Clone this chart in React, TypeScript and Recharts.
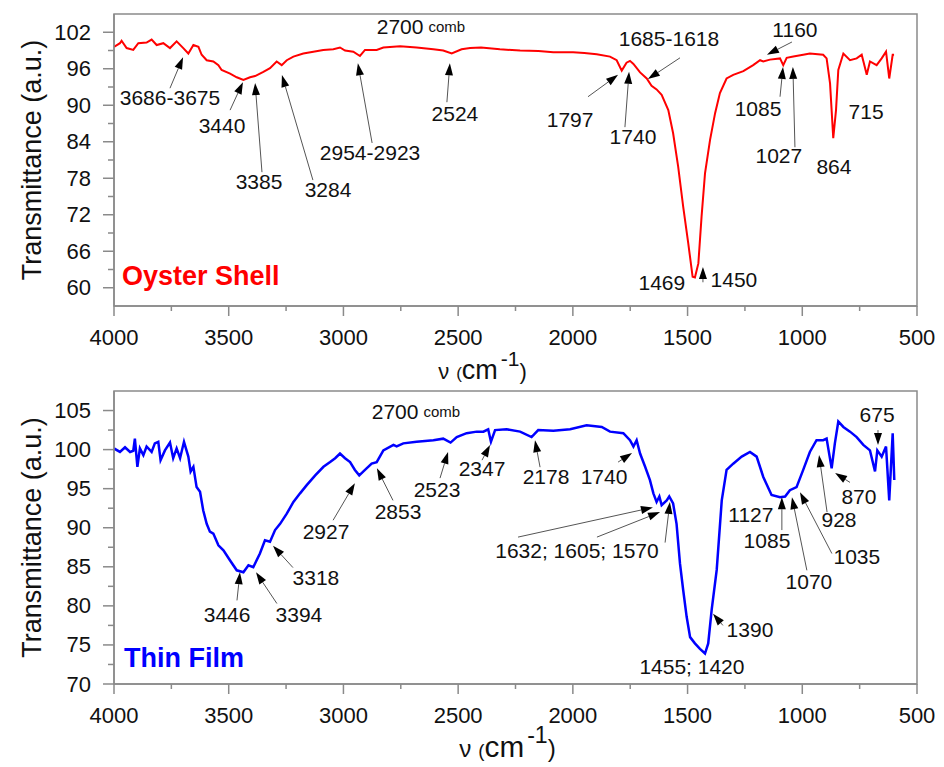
import React from 'react';
import {
  LineChart,
  Line,
  XAxis,
  YAxis,
  ReferenceLine,
  ReferenceDot,
  ReferenceArea,
} from 'recharts';

const FONT = '"Liberation Sans", Arial, Helvetica, sans-serif';
const GREY = '#8a8a8a';
const INK = '#111';

// wavenumber ticks (cm-1)
const xMajor = [4000, 3500, 3000, 2500, 2000, 1500, 1000, 500];
const xMinor = [3750, 3250, 2750, 2250, 1750, 1250, 750];

const shellYMajor = [60, 66, 72, 78, 84, 90, 96, 102];
const shellYMinor = [63, 69, 75, 81, 87, 93, 99];
const filmYMajor = [70, 75, 80, 85, 90, 95, 100, 105];
const filmYMinor = [72.5, 77.5, 82.5, 87.5, 92.5, 97.5, 102.5];

// Oyster shell spectrum
const shellNu = [
  4000, 3974, 3967, 3945, 3916, 3894, 3858, 3836, 3814, 3785, 3756, 3727, 3698, 3676, 3654, 3632,
  3618, 3596, 3567, 3545, 3531, 3494, 3465, 3436, 3407, 3385, 3349, 3320, 3291, 3269, 3247, 3218,
  3175, 3131, 3088, 3044, 3015, 2993, 2957, 2928, 2906, 2855, 2826, 2753, 2681, 2608, 2565, 2528,
  2485, 2448, 2400, 2318, 2230, 2150, 2085, 1999, 1950, 1896, 1838, 1809, 1787, 1766, 1751, 1736,
  1707, 1678, 1657, 1635, 1613, 1584, 1563, 1541, 1519, 1497, 1478, 1468, 1453, 1439, 1424, 1402,
  1380, 1359, 1330, 1301, 1257, 1214, 1184, 1170, 1141, 1097, 1083, 1068, 1039, 996, 967, 909,
  894, 879, 865, 853, 843, 821, 792, 763, 741, 719, 705, 676, 654, 635, 621, 606, 600,
];
const shellT = [
  99.6, 100.2, 100.6, 99.4, 99.1, 100.2, 100.3, 100.8, 99.9, 100.2, 99.4, 100.5, 99.4, 98.5, 99.9, 99.6,
  98.3, 97.4, 97.2, 96.6, 95.8, 95.2, 94.6, 94.15, 94.6, 94.8, 95.5, 96.1, 97.2, 96.6, 97.4, 98.0,
  98.5, 98.8, 99.1, 99.2, 99.5, 99.0, 98.8, 98.1, 99.1, 99.1, 99.5, 99.7, 99.5, 99.2, 99.0, 98.5,
  99.2, 99.4, 99.5, 99.2, 99.0, 98.9, 98.7, 98.7, 98.6, 98.4, 98.0, 97.4, 95.7, 97.0, 97.3, 96.8,
  95.4, 94.4, 93.2, 92.6, 91.7, 89.2, 85.4, 79.9, 73.3, 67.3, 61.8, 61.7, 64.0, 71.7, 78.8, 84.3,
  88.7, 92.0, 94.4, 95.0, 95.6, 96.6, 97.4, 97.2, 97.5, 97.7, 96.6, 97.8, 98.0, 98.3, 98.5, 98.3,
  97.7, 93.6, 84.6, 89.2, 95.8, 98.5, 97.4, 97.7, 98.3, 95.0, 97.2, 96.6, 97.7, 98.8, 94.4, 98.3, 98.3,
];

// Thin film spectrum
const filmNu = [
  4000, 3974, 3952, 3930, 3916, 3909, 3898, 3887, 3872, 3858, 3836, 3822, 3807, 3797, 3778, 3756,
  3742, 3727, 3712, 3695, 3676, 3666, 3654, 3640, 3625, 3611, 3596, 3582, 3567, 3545, 3523, 3494,
  3465, 3436, 3414, 3393, 3364, 3342, 3320, 3298, 3276, 3247, 3218, 3189, 3160, 3123, 3087, 3058,
  3036, 3015, 2993, 2971, 2950, 2931, 2906, 2877, 2855, 2826, 2782, 2768, 2739, 2681, 2608, 2565,
  2533, 2506, 2463, 2419, 2390, 2369, 2357, 2339, 2289, 2230, 2180, 2151, 2085, 2012, 1940, 1874,
  1838, 1780, 1751, 1736, 1722, 1707, 1685, 1664, 1649, 1635, 1623, 1613, 1591, 1580, 1563, 1548,
  1533, 1519, 1504, 1489, 1468, 1446, 1424, 1410, 1395, 1373, 1351, 1330, 1301, 1264, 1228, 1199,
  1170, 1134, 1097, 1075, 1054, 1025, 996, 967, 938, 909, 894, 872, 858, 843, 821, 792,
  763, 734, 705, 683, 673, 654, 635, 621, 606, 599,
];
const filmT = [
  100.15, 99.7, 100.3, 99.7, 99.85, 101.4, 97.8, 100.15, 99.3, 100.4, 99.7, 100.8, 101.0, 98.65, 99.9, 100.9,
  98.9, 100.15, 98.9, 101.0, 99.1, 97.2, 97.8, 95.2, 94.6, 92.2, 90.5, 89.5, 89.25, 87.75, 87.1, 85.8,
  84.55, 84.3, 85.2, 84.95, 86.7, 88.4, 88.2, 89.7, 90.5, 91.8, 93.3, 94.4, 95.45, 96.7, 97.8, 98.4,
  98.9, 99.5, 98.9, 98.4, 97.4, 96.7, 97.4, 98.2, 98.4, 99.9, 100.6, 100.4, 100.8, 101.0, 101.2, 101.4,
  100.9, 101.6, 102.1, 102.3, 102.3, 102.6, 101.0, 102.5, 102.6, 102.3, 101.6, 102.5, 102.4, 102.6, 103.1, 102.9,
  102.3, 102.1, 101.2, 100.4, 101.2, 99.5, 97.8, 96.1, 94.4, 93.3, 94.0, 92.9, 93.5, 94.0, 93.1, 90.5,
  85.4, 82.0, 78.6, 76.0, 75.2, 74.5, 73.9, 75.2, 79.5, 84.6, 93.5, 97.4, 98.2, 99.1, 99.7, 99.1,
  96.5, 94.2, 93.9, 94.0, 94.8, 95.2, 97.4, 99.7, 101.2, 101.2, 101.4, 97.6, 100.8, 103.6, 102.9, 102.3,
  101.6, 100.6, 99.9, 97.2, 99.9, 99.1, 100.4, 93.5, 102.1, 96.1,
];

type Note = {
  text: string;
  x: number;
  y: number;
  anchor?: 'start' | 'middle' | 'end';
  arrows?: number[][]; // [fromNu, fromT, toNu, toT]
};

const shellNotes: Note[] = [
  { text: '3686-3675', x: 3756, y: 91.35, arrows: [[3756, 92.8, 3699, 97.9]] },
  { text: '3440', x: 3529, y: 86.75, arrows: [[3494, 89.2, 3438, 93.8]] },
  { text: '3385', x: 3368, y: 77.4, arrows: [[3355, 79.0, 3385, 93.65]] },
  { text: '3284', x: 3067, y: 76.1, arrows: [[3133, 77.7, 3268, 94.97]] },
  { text: '2954-2923', x: 2884, y: 82.3, arrows: [[2875, 83.8, 2937, 96.9]] },
  { text: '2524', x: 2514, y: 88.7, arrows: [[2549, 90.5, 2536, 96.9]] },
  { text: '2700|comb', x: 2662, y: 103.0 },
  { text: '1797', x: 2012, y: 87.6, arrows: [[1934, 91.4, 1803, 95.0]] },
  { text: '1740', x: 1738, y: 84.8, arrows: [[1773, 86.4, 1755, 95.5]] },
  { text: '1685-1618', x: 1581, y: 100.9, arrows: [[1533, 97.8, 1673, 94.3]] },
  { text: '1160', x: 1032, y: 102.4, arrows: [[1045, 100.4, 1154, 98.3]] },
  { text: '1085', x: 1193, y: 89.5, arrows: [[1097, 91.4, 1084, 96.3]] },
  { text: '1027', x: 1102, y: 81.7, arrows: [[1032, 83.1, 1041, 96.3]] },
  { text: '864', x: 862, y: 79.85 },
  { text: '715', x: 722, y: 88.9 },
  { text: '1469', x: 1612, y: 60.8 },
  { text: '1450', x: 1298, y: 61.4, arrows: [[1433, 60.9, 1433, 63.4]] },
];

const filmNotes: Note[] = [
  { text: '3446', x: 3507, y: 78.9, arrows: [[3464, 80.7, 3451, 84.3]] },
  { text: '3394', x: 3194, y: 78.9, arrows: [[3290, 80.3, 3381, 84.3]] },
  { text: '3318', x: 3120, y: 83.65, arrows: [[3220, 84.9, 3307, 87.7]] },
  { text: '2927', x: 3076, y: 89.55, arrows: [[3045, 90.96, 2950, 95.7]] },
  { text: '2853', x: 2762, y: 92.1, arrows: [[2784, 93.5, 2854, 97.6]] },
  { text: '2523', x: 2592, y: 94.9, arrows: [[2579, 96.35, 2544, 99.7]] },
  { text: '2347', x: 2396, y: 97.6, arrows: [[2396, 98.65, 2361, 100.6]] },
  { text: '2178', x: 2117, y: 96.5, arrows: [[2143, 97.75, 2165, 101.2]] },
  { text: '1740', x: 1864, y: 96.6, arrows: [[1803, 98.4, 1742, 99.55]] },
  { text: '2700|comb', x: 2684, y: 104.9 },
  {
    text: '1632; 1605; 1570',
    x: 1982,
    y: 87.1,
    arrows: [
      [2239, 88.8, 1651, 92.6],
      [1895, 88.8, 1620, 92.0],
      [1598, 88.1, 1577, 93.3],
    ],
  },
  { text: '1455; 1420', x: 1481, y: 72.2 },
  { text: '1390', x: 1228, y: 77.0, arrows: [[1346, 77.5, 1389, 79.0]] },
  { text: '1127', x: 1224, y: 91.7 },
  { text: '1085', x: 1154, y: 88.4, arrows: [[1089, 89.7, 1089, 93.9]] },
  { text: '1070', x: 971, y: 83.1, arrows: [[980, 84.55, 1045, 93.9]] },
  { text: '1035', x: 762, y: 86.35, arrows: [[871, 86.7, 1010, 94.55]] },
  { text: '928', x: 840, y: 91.0, arrows: [[892, 92.0, 927, 99.3]] },
  { text: '870', x: 753, y: 94.0, arrows: [[792, 95.8, 857, 97.0]] },
  { text: '675', x: 674, y: 104.55, arrows: [[670, 102.5, 670, 100.6]] },
];

const Arrow = (p: any) => {
  const { x1, y1, x2, y2 } = p;
  const ang = Math.atan2(y2 - y1, x2 - x1);
  const len = 12;
  const half = 4;
  const bx = x2 - len * Math.cos(ang);
  const by = y2 - len * Math.sin(ang);
  const nx = -Math.sin(ang) * half;
  const ny = Math.cos(ang) * half;
  return (
    <g>
      <line x1={x1} y1={y1} x2={bx} y2={by} stroke="#555" strokeWidth={1} />
      <polygon points={`${x2},${y2} ${bx + nx},${by + ny} ${bx - nx},${by - ny}`} fill="#000" />
    </g>
  );
};

const noteLabel = (note: Note) => (p: any) => {
  if (note.text.includes('|')) {
    const [main, small] = note.text.split('|');
    return (
      <text x={p.cx} y={p.cy} textAnchor="middle" dominantBaseline="central" fontFamily={FONT} fill={INK}>
        <tspan fontSize={21}>{main}</tspan>
        <tspan fontSize={15} dx={5}>{small}</tspan>
      </text>
    );
  }
  return (
    <text
      x={p.cx}
      y={p.cy}
      textAnchor={note.anchor ?? 'middle'}
      dominantBaseline="central"
      fontSize={21}
      fontFamily={FONT}
      fill={INK}
    >
      {note.text}
    </text>
  );
};

const makeXTick = (p: any) => {
  const { x, y, payload } = p;
  const major = xMajor.includes(payload.value);
  return (
    <g>
      <line x1={x} y1={y} x2={x} y2={y + (major ? 10 : 5)} stroke={GREY} strokeWidth={1.5} />
      {major && (
        <text x={x} y={y + 39} textAnchor="middle" fontSize={22} fontFamily={FONT} fill={INK}>
          {payload.value}
        </text>
      )}
    </g>
  );
};

const makeYTick = (majors: number[]) => (p: any) => {
  const { x, y, payload } = p;
  const major = majors.includes(payload.value);
  return (
    <g>
      <line x1={x} y1={y} x2={x - (major ? 11 : 6)} y2={y} stroke={GREY} strokeWidth={1.5} />
      {major && (
        <text x={x - 23} y={y} textAnchor="end" dominantBaseline="central" fontSize={22} fontFamily={FONT} fill={INK}>
          {payload.value}
        </text>
      )}
    </g>
  );
};

interface PanelProps {
  nu: number[];
  values: number[];
  color: string;
  lineWidth: number;
  yDomain: [number, number];
  yMajor: number[];
  yMinor: number[];
  notes: Note[];
  name: string;
  nameAt: [number, number];
  height: number;
  marginTop: number;
  xAxisHeight: number;
  titleDy: number;
  titleDx: number;
  titleScale: number;
}

function Panel(props: PanelProps) {
  const {
    nu, values, color, lineWidth, yDomain, yMajor, yMinor, notes, name, nameAt,
    height, marginTop, xAxisHeight, titleDy, titleDx, titleScale,
  } = props;
  const data = nu.map((n, i) => ({ nu: n, t: values[i] }));
  const s = titleScale;

  const xTitle = (lp: any) => {
    const vb = lp.viewBox;
    const cx = vb.x + vb.width / 2 + titleDx;
    const base = vb.y + titleDy;
    return (
      <text x={cx} y={base} textAnchor="middle" fontFamily={FONT} fill={INK}>
        <tspan fontSize={22 * s}>ν</tspan>
        <tspan fontSize={17 * s} dx={7}>(</tspan>
        <tspan fontSize={27 * s}>cm</tspan>
        <tspan fontSize={21 * s} dy={-13 * s} dx={3}>-1</tspan>
        <tspan fontSize={22 * s} dy={13 * s}>)</tspan>
      </text>
    );
  };

  const yTitle = (lp: any) => {
    const vb = lp.viewBox;
    const cx = 24;
    const cy = vb.y + vb.height / 2;
    return (
      <text
        x={cx}
        y={cy}
        transform={`rotate(-90, ${cx}, ${cy})`}
        textAnchor="middle"
        dominantBaseline="central"
        fontSize={27}
        fontFamily={FONT}
        fill={INK}
      >
        Transmittance (a.u.)
      </text>
    );
  };

  return (
    <LineChart width={930} height={height} data={data} margin={{ top: marginTop, right: 21, left: 0, bottom: 0 }}>
      <ReferenceArea
        x1={4000}
        x2={500}
        y1={yDomain[0]}
        y2={yDomain[1]}
        fill="none"
        stroke={GREY}
        strokeWidth={1.5}
        ifOverflow="visible"
      />
      <XAxis
        dataKey="nu"
        type="number"
        domain={[500, 4000]}
        reversed
        ticks={[...xMajor, ...xMinor].sort((a, b) => a - b)}
        interval={0}
        tickSize={0}
        tickMargin={0}
        tickLine={false}
        tick={makeXTick}
        axisLine={{ stroke: GREY, strokeWidth: 1.5 }}
        height={xAxisHeight}
        allowDataOverflow
        label={xTitle}
      />
      <YAxis
        type="number"
        domain={yDomain}
        ticks={[...yMajor, ...yMinor].sort((a, b) => a - b)}
        interval={0}
        tickSize={0}
        tickMargin={0}
        tickLine={false}
        tick={makeYTick(yMajor)}
        axisLine={{ stroke: GREY, strokeWidth: 1.5 }}
        width={106}
        allowDataOverflow
        label={yTitle}
      />
      <Line
        type="linear"
        dataKey="t"
        stroke={color}
        strokeWidth={lineWidth}
        dot={false}
        isAnimationActive={false}
      />
      {notes.flatMap((note, i) =>
        (note.arrows ?? []).map((a, j) => (
          <ReferenceLine
            key={`a${i}-${j}`}
            segment={[{ x: a[0], y: a[1] }, { x: a[2], y: a[3] }]}
            shape={Arrow}
            ifOverflow="visible"
          />
        )),
      )}
      {notes.map((note, i) => (
        <ReferenceDot key={`n${i}`} x={note.x} y={note.y} r={0} shape={noteLabel(note)} ifOverflow="visible" />
      ))}
      <ReferenceDot
        x={nameAt[0]}
        y={nameAt[1]}
        r={0}
        ifOverflow="visible"
        shape={(p: any) => (
          <text
            x={p.cx}
            y={p.cy}
            textAnchor="start"
            dominantBaseline="central"
            fontSize={27}
            fontWeight="bold"
            fontFamily={FONT}
            fill={color}
          >
            {name}
          </text>
        )}
      />
    </LineChart>
  );
}

export default function App() {
  return (
    <div style={{ width: 930, fontFamily: FONT }}>
      <Panel
        nu={shellNu}
        values={shellT}
        color="#ff0000"
        lineWidth={2}
        yDomain={[57, 105]}
        yMajor={shellYMajor}
        yMinor={shellYMinor}
        notes={shellNotes}
        name="Oyster Shell"
        nameAt={[3965, 61.9]}
        height={380}
        marginTop={6}
        xAxisHeight={82}
        titleDy={73}
        titleDx={-33}
        titleScale={1}
      />
      <Panel
        nu={filmNu}
        values={filmT}
        color="#0000ff"
        lineWidth={2.5}
        yDomain={[70, 107.5]}
        yMajor={filmYMajor}
        yMinor={filmYMinor}
        notes={filmNotes}
        name="Thin Film"
        nameAt={[3956, 73.3]}
        height={375}
        marginTop={3}
        xAxisHeight={79}
        titleDy={73}
        titleDx={-8}
        titleScale={1.1}
      />
    </div>
  );
}
